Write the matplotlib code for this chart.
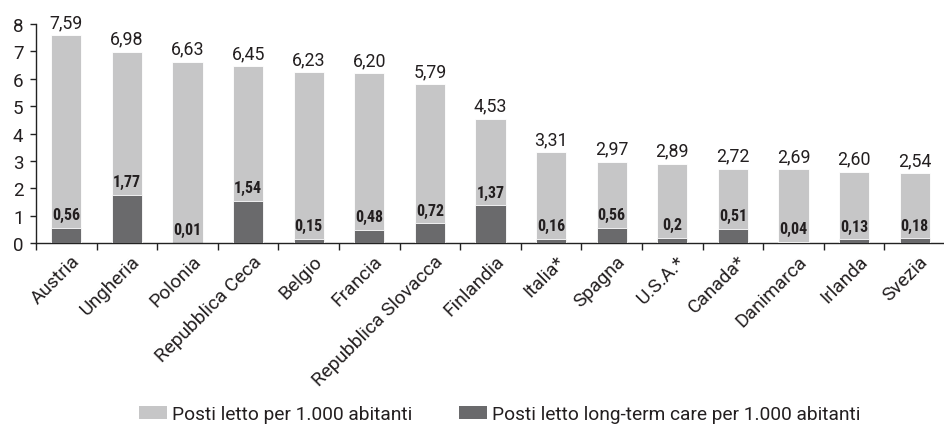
import matplotlib
matplotlib.use("Agg")
import matplotlib.pyplot as plt
from matplotlib.patches import Patch

paesi = ["Austria", "Ungheria", "Polonia", "Repubblica Ceca", "Belgio", "Francia",
         "Repubblica Slovacca", "Finlandia", "Italia*", "Spagna", "U.S.A.*", "Canada*",
         "Danimarca", "Irlanda", "Svezia"]
posti_letto = [7.59, 6.98, 6.63, 6.45, 6.23, 6.20, 5.79, 4.53, 3.31, 2.97, 2.89, 2.72,
               2.69, 2.60, 2.54]
posti_ltc = [0.56, 1.77, 0.01, 1.54, 0.15, 0.48, 0.72, 1.37, 0.16, 0.56, 0.2, 0.51,
             0.04, 0.13, 0.18]
etichette_ltc = ["0,56", "1,77", "0,01", "1,54", "0,15", "0,48", "0,72", "1,37", "0,16",
                 "0,56", "0,2", "0,51", "0,04", "0,13", "0,18"]
yticks = [0, 1, 2, 3, 4, 5, 6, 7, 8]
legenda = ["Posti letto per 1.000 abitanti",
           "Posti letto long-term care per 1.000 abitanti"]

plt.rcParams["font.family"] = ["Roboto", "DejaVu Sans"]
COND = ["Roboto Condensed", "Roboto", "DejaVu Sans"]

LIGHT = "#c6c6c7"
DARK = "#6a6a6c"
TXT = "#231f20"

fig = plt.figure(figsize=(9.45, 4.27), dpi=100)
ax = fig.add_axes([36 / 945, (427 - 244) / 427, 909 / 945, (244 - 25) / 427])

x = list(range(len(paesi)))
w = 0.5
ax.bar(x, posti_letto, width=w, color=LIGHT, edgecolor="white", linewidth=0.6, zorder=2)
ax.bar(x, posti_ltc, width=w, color=DARK, edgecolor="white", linewidth=0.6, zorder=3)

# value labels above each bar
for xi, v in zip(x, posti_letto):
    ax.annotate(f"{v:.2f}".replace(".", ","), (xi, v), xytext=(0, 3),
                textcoords="offset points", ha="center", va="bottom",
                fontsize=12.8, color=TXT)
for xi, v, lab in zip(x, posti_ltc, etichette_ltc):
    ax.annotate(lab, (xi, v), xytext=(0, 4), textcoords="offset points",
                ha="center", va="bottom", fontsize=11.5, fontweight="bold",
                family=COND, color=TXT)

ax.set_xlim(-0.5, 14.3)
ax.set_ylim(0, 8)
ax.set_yticks(yticks)
ax.set_yticklabels([str(t) for t in yticks], fontsize=13.5, color=TXT)

# category names, rotated, anchored just below the axis
ax.set_xticks(x)
ax.set_xticklabels([])
ax.tick_params(axis="x", which="major", length=0)
xaxis_tr = ax.get_xaxis_transform()
for xi, name in zip(x, paesi):
    ax.annotate(name, (xi, 0), xycoords=xaxis_tr, xytext=(7.5, -10.8),
                textcoords="offset points", rotation=45, rotation_mode="anchor",
                ha="right", va="center", fontsize=13.8, color=TXT,
                annotation_clip=False)

ax.set_xticks([i - 0.5 for i in range(len(paesi) + 1)], minor=True)
ax.tick_params(axis="x", which="minor", length=5, width=1, color="#222222", direction="out")
ax.tick_params(axis="y", length=4.5, width=1, color="#222222", direction="out", pad=4.5)

for s in ["top", "right"]:
    ax.spines[s].set_visible(False)
for s in ["left", "bottom"]:
    ax.spines[s].set_color("#222222")
    ax.spines[s].set_linewidth(1)

handles = [Patch(facecolor=LIGHT, edgecolor="none"), Patch(facecolor=DARK, edgecolor="none")]
fig.legend(handles, legenda, loc="center", bbox_to_anchor=(500 / 945, 1 - 415 / 427),
           ncol=2, frameon=False, fontsize=13.8, handlelength=1.46, handleheight=0.68,
           handletextpad=0.26, columnspacing=2.45, labelcolor=TXT, borderpad=0)

fig.savefig("out.png", dpi=100)
